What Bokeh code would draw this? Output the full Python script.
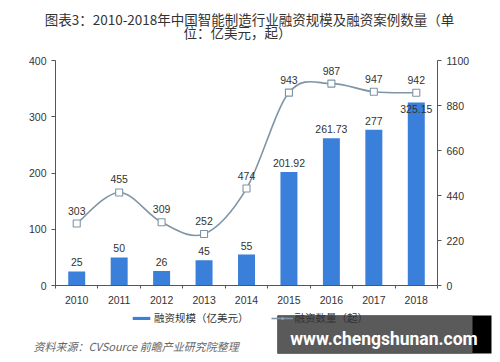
from bokeh.plotting import figure
from bokeh.models import (ColumnDataSource, LinearAxis, Range1d, FixedTicker, LabelSet,
                          Label, Legend, LegendItem, BoxAnnotation)
from bokeh.core.properties import value
from bokeh.embed import file_html
from bokeh.resources import INLINE

years = ["2010", "2011", "2012", "2013", "2014", "2015", "2016", "2017", "2018"]
funding = [25, 50, 26, 45, 55, 201.92, 261.73, 277, 325.15]
deals = [303, 455, 309, 252, 474, 943, 987, 947, 942]
left_ticks = [0, 100, 200, 300, 400]
right_ticks = [0, 220, 440, 660, 880, 1100]

title1 = "图表3：2010-2018年中国智能制造行业融资规模及融资案例数量（单"
title2 = "位：亿美元，起）"
bar_name = "融资规模（亿美元）"
line_name = "融资数量（起）"
source_text = "资料来源：CVSource  前瞻产业研究院整理"
watermark = "www.chengshunan.com"

FONT = "Liberation Sans"
CJK = "Noto Sans CJK SC"
BAR = "#3a7fd9"
LINE = "#7f95a6"
TXT = "#333333"
AX = "#555555"

W, H = 492, 354
# plot area in canvas pixels
FL, FR, FT, FB = 55, 437, 60, 285

xs = list(range(len(years)))
xlo, xhi = -0.5, len(years) - 0.5
ylo, yhi = 0, left_ticks[-1]
rlo, rhi = 0, right_ticks[-1]


def span(lo, hi, a, b, total):
    per = (hi - lo) / (b - a)
    return lo - a * per, hi + (total - b) * per


xr = span(xlo, xhi, FL, FR, W)
yr = span(ylo, yhi, H - FB, H - FT, H)
rr = span(rlo, rhi, H - FB, H - FT, H)


def px_x(px):
    return xr[0] + px * (xr[1] - xr[0]) / W


def px_y(py):
    return yr[0] + (H - py) * (yr[1] - yr[0]) / H


p = figure(width=W, height=H, output_backend="svg", toolbar_location=None,
           x_range=Range1d(*xr), y_range=Range1d(*yr),
           x_axis_location=None, y_axis_location=None,
           min_border=0, min_border_left=0, min_border_right=0, min_border_top=0,
           min_border_bottom=0)
p.extra_y_ranges = {"right": Range1d(*rr)}
p.outline_line_color = None
p.grid.visible = False
p.background_fill_color = "white"

bar_src = ColumnDataSource(dict(x=xs, top=funding))
bars = p.vbar(x="x", top="top", width=0.4, source=bar_src, fill_color=BAR, line_color=None)

# smooth curve through the points (cubic Bezier segments, Catmull-Rom tangents)
n = len(deals)
x0, y0, x1, y1, cx0, cy0, cx1, cy1 = [], [], [], [], [], [], [], []
for i in range(n - 1):
    ip = max(i - 1, 0)
    inn = min(i + 2, n - 1)
    x0.append(xs[i]); y0.append(deals[i])
    x1.append(xs[i + 1]); y1.append(deals[i + 1])
    cx0.append(xs[i] + (xs[i + 1] - xs[ip]) / 6); cy0.append(deals[i] + (deals[i + 1] - deals[ip]) / 6)
    cx1.append(xs[i + 1] - (xs[inn] - xs[i]) / 6); cy1.append(deals[i + 1] - (deals[inn] - deals[i]) / 6)
bz_src = ColumnDataSource(dict(x0=x0, y0=y0, x1=x1, y1=y1, cx0=cx0, cy0=cy0, cx1=cx1, cy1=cy1))
curve = p.bezier(x0="x0", y0="y0", x1="x1", y1="y1", cx0="cx0", cy0="cy0", cx1="cx1", cy1="cy1",
                 source=bz_src, line_color=LINE, line_width=1.6, y_range_name="right")
line_src = ColumnDataSource(dict(x=xs, y=deals, lab=[str(v) for v in deals]))
marks = p.scatter(x="x", y="y", source=line_src, marker="square", size=7, fill_color="white",
                  line_color=LINE, line_width=1.1, y_range_name="right")

# data labels
bar_lab_a = ColumnDataSource(dict(x=xs[:-1], y=funding[:-1], lab=[f"{v:g}" for v in funding[:-1]]))
bar_lab_b = ColumnDataSource(dict(x=xs[-1:], y=funding[-1:], lab=[f"{v:g}" for v in funding[-1:]]))
common = dict(text_align="center", text_font_size="10.5px", text_color=TXT, text_font=value(FONT))
p.add_layout(LabelSet(x="x", y="y", text="lab", source=bar_lab_a, text_baseline="bottom",
                      y_offset=5, **common))
p.add_layout(LabelSet(x="x", y="y", text="lab", source=bar_lab_b, text_baseline="middle",
                      y_offset=-6, **common))
p.add_layout(LabelSet(x="x", y="y", text="lab", source=line_src, text_baseline="bottom",
                      y_offset=9, y_range_name="right", **common))

# axes drawn at fixed positions on the plot area edges
ax_b = LinearAxis(fixed_location=ylo, bounds=(xlo, xhi),
                  ticker=FixedTicker(ticks=xs, minor_ticks=[x - 0.5 for x in xs] + [xhi]))
ax_b.major_label_overrides = {x: y for x, y in zip(xs, years)}
ax_b.major_tick_out = 0
ax_b.major_tick_in = 0
ax_b.minor_tick_out = 3
ax_b.minor_tick_in = 0
ax_b.major_label_standoff = 7
ax_l = LinearAxis(fixed_location=xlo, bounds=(ylo, yhi), ticker=FixedTicker(ticks=left_ticks))
ax_r = LinearAxis(fixed_location=xhi, bounds=(rlo, rhi), y_range_name="right",
                  ticker=FixedTicker(ticks=right_ticks))
p.add_layout(ax_b, "below")
p.add_layout(ax_l, "left")
p.add_layout(ax_r, "right")
for ax in [ax_b, ax_l, ax_r]:
    ax.axis_line_color = AX
    ax.major_tick_line_color = AX
    ax.minor_tick_line_color = AX
    ax.major_label_text_font = FONT
    ax.major_label_text_font_size = "10.5px"
    ax.major_label_text_color = TXT
for ax in [ax_l, ax_r]:
    ax.major_tick_out = 4
    ax.major_tick_in = 0
    ax.minor_tick_out = 0
    ax.minor_tick_in = 0
    ax.major_label_standoff = 5

# title and notes (screen units, origin at bottom-left of the canvas)
tcommon = dict(x_units="screen", y_units="screen", text_baseline="middle",
               text_font=CJK, text_font_size="13.5px", text_color=TXT)
p.add_layout(Label(x=249, y=H - 18, text=title1, text_align="center", **tcommon))
p.add_layout(Label(x=237, y=H - 31, text=title2, text_align="center", **tcommon))
p.add_layout(Label(x=33, y=H - 345, x_units="screen", y_units="screen", text=source_text,
                   text_align="left", text_baseline="middle", text_font=CJK,
                   text_font_style="italic", text_font_size="11px", text_color="#666666"))

# watermark overlay box (as in the reference picture)
p.add_layout(BoxAnnotation(left=px_x(277), right=px_x(491), top=px_y(315), bottom=px_y(353),
                           fill_color="#000000", fill_alpha=1, line_color=None))
p.add_layout(BoxAnnotation(left=px_x(277), right=px_x(472), top=px_y(315), bottom=px_y(353),
                           fill_color="#5a5a5a", fill_alpha=1, line_color=None))
p.add_layout(Label(x=383.5, y=H - 338, x_units="screen", y_units="screen", text=watermark,
                   text_align="center", text_baseline="middle", text_font="Roboto",
                   text_font_style="bold", text_font_size="17.5px", text_color="#ffffff"))

# legend below the axis (drawn over the overlay box)
legend = Legend(items=[LegendItem(label=bar_name, renderers=[bars]),
                       LegendItem(label=line_name, renderers=[curve, marks])],
                orientation="horizontal", location=(130, 29), border_line_color=None,
                background_fill_alpha=0, glyph_width=22, glyph_height=4, label_standoff=2,
                spacing=22, padding=0, margin=0, label_text_font=CJK,
                label_text_font_size="10.5px", label_text_color=TXT)
p.add_layout(legend, "center")

open("out.html", "w").write(file_html(p, INLINE))
